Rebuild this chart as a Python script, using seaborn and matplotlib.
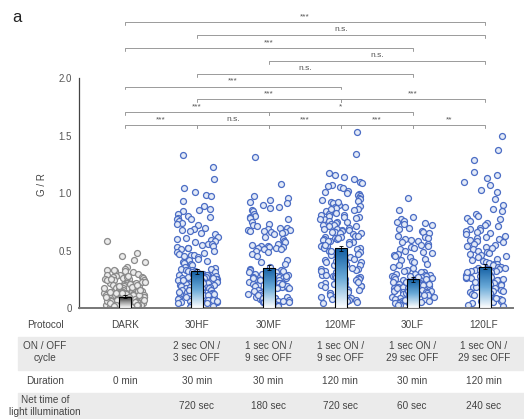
import numpy as np
import pandas as pd
import seaborn as sns
import matplotlib.pyplot as plt
from matplotlib.patches import Rectangle
from matplotlib.colors import LinearSegmentedColormap

#############################################################################
# G/R values per protocol
#############################################################################
groups = ['DARK', '30HF', '30MF', '120MF', '30LF', '120LF']

dark = [0.58, 0.48, 0.45, 0.42, 0.40, 0.36, 0.34, 0.33, 0.32, 0.32, 0.31, 0.30, 0.29, 0.29, 0.28,
        0.27, 0.27, 0.26, 0.26, 0.25, 0.25, 0.24, 0.24, 0.23, 0.23, 0.22, 0.22, 0.21, 0.21, 0.21,
        0.20, 0.20, 0.19, 0.19, 0.19, 0.18, 0.18, 0.18, 0.17, 0.17, 0.17, 0.16, 0.16, 0.16, 0.16,
        0.15, 0.15, 0.15, 0.14, 0.14, 0.14, 0.14, 0.13, 0.13, 0.13, 0.13, 0.12, 0.12, 0.12, 0.12,
        0.11, 0.11, 0.11, 0.11, 0.10, 0.10, 0.10, 0.10, 0.09, 0.09, 0.09, 0.09, 0.08, 0.08, 0.08,
        0.08, 0.07, 0.07, 0.07, 0.07, 0.06, 0.06, 0.06, 0.06, 0.05, 0.05, 0.05, 0.05, 0.04, 0.04,
        0.04, 0.04, 0.03, 0.03, 0.03, 0.02, 0.02, 0.02, 0.01, 0.01, 0.24, 0.19, 0.15, 0.12, 0.08,
        0.05, 0.03, 0.22, 0.17, 0.13, 0.09, 0.06, 0.27, 0.21, 0.11, 0.07, 0.04, 0.02, 0.18, 0.14,
        0.33, 0.28, 0.25, 0.20, 0.16, 0.10, 0.06, 0.03, 0.23, 0.13]

hf30 = [1.33, 1.23, 1.12, 1.04, 1.01, 0.98, 0.97, 0.93, 0.89, 0.86, 0.85, 0.84, 0.82, 0.80, 0.79,
        0.78, 0.77, 0.77, 0.76, 0.74, 0.73, 0.72, 0.70, 0.69, 0.68, 0.67, 0.65, 0.64, 0.62, 0.61,
        0.60, 0.59, 0.58, 0.57, 0.56, 0.56, 0.55, 0.54, 0.53, 0.52, 0.52, 0.51, 0.50, 0.49, 0.48,
        0.47, 0.46, 0.46, 0.45, 0.44, 0.43, 0.42, 0.41, 0.40, 0.39, 0.38, 0.37, 0.36,
        0.35, 0.34, 0.34, 0.33, 0.33, 0.32, 0.32, 0.31, 0.31, 0.31, 0.30, 0.30, 0.29, 0.29, 0.29,
        0.28, 0.28, 0.27, 0.27, 0.27, 0.26, 0.26, 0.25, 0.25, 0.25, 0.24, 0.24, 0.23, 0.23, 0.23,
        0.22, 0.22, 0.21, 0.21, 0.21, 0.20, 0.20, 0.19, 0.19, 0.19, 0.18, 0.18, 0.17, 0.17, 0.17,
        0.16, 0.16, 0.15, 0.15, 0.15, 0.14, 0.14, 0.13, 0.13, 0.13, 0.12, 0.12, 0.11, 0.11, 0.11,
        0.10, 0.10, 0.09, 0.09, 0.09, 0.08, 0.08, 0.07, 0.07, 0.07, 0.06, 0.06, 0.05, 0.05, 0.04,
        0.04, 0.03, 0.03, 0.02, 0.01, 0.26, 0.22, 0.18, 0.14, 0.10, 0.06, 0.30, 0.24, 0.16, 0.12]

mf30 = [1.31, 1.08, 0.97, 0.96, 0.94, 0.92, 0.91, 0.90, 0.88, 0.87, 0.85, 0.84, 0.82, 0.80, 0.79,
        0.78, 0.77, 0.75, 0.73, 0.72, 0.71, 0.70, 0.70, 0.69, 0.68, 0.68, 0.67, 0.67, 0.66, 0.66,
        0.65, 0.64, 0.62, 0.60, 0.58, 0.57, 0.56, 0.55, 0.54, 0.54, 0.53, 0.53, 0.52, 0.52, 0.51,
        0.51, 0.50, 0.49, 0.47, 0.45, 0.42, 0.40, 0.38, 0.36,
        0.34, 0.33, 0.33, 0.32, 0.31, 0.31, 0.30, 0.30, 0.29, 0.28, 0.28, 0.27, 0.27, 0.26, 0.26,
        0.25, 0.25, 0.24, 0.24, 0.23, 0.23, 0.22, 0.22, 0.21, 0.21, 0.20, 0.20, 0.19, 0.19, 0.18,
        0.18, 0.17, 0.17, 0.16, 0.16, 0.15, 0.15, 0.14, 0.14, 0.13, 0.13, 0.12, 0.12, 0.11, 0.11,
        0.10, 0.10, 0.09, 0.09, 0.08, 0.08, 0.07, 0.07, 0.06, 0.06, 0.05, 0.05, 0.04, 0.04, 0.03,
        0.03, 0.02, 0.24, 0.19, 0.15, 0.11, 0.07, 0.28, 0.21, 0.13, 0.09, 0.05, 0.17, 0.26]

mf120 = [1.53, 1.34, 1.17, 1.16, 1.14, 1.12, 1.10, 1.09, 1.07, 1.06, 1.05, 1.04, 1.02, 1.01, 1.00,
         0.99, 0.98, 0.97, 0.96, 0.95, 0.94, 0.93, 0.92, 0.91, 0.90, 0.89, 0.88, 0.88, 0.87, 0.86,
         0.85, 0.84, 0.83, 0.83, 0.82, 0.81, 0.80, 0.79, 0.79, 0.78, 0.77, 0.76, 0.75, 0.75, 0.74,
         0.73, 0.72, 0.71, 0.71, 0.70, 0.69, 0.68, 0.68, 0.67, 0.66, 0.65, 0.65, 0.64, 0.63, 0.62,
         0.62, 0.61, 0.60, 0.60, 0.59, 0.58, 0.57, 0.57, 0.56, 0.55, 0.54, 0.54, 0.53, 0.52, 0.52,
         0.51, 0.50, 0.49, 0.49, 0.48, 0.47, 0.46, 0.46, 0.45, 0.44, 0.43, 0.43, 0.42, 0.41, 0.40,
         0.40, 0.39, 0.38, 0.37, 0.37, 0.36, 0.35, 0.34, 0.34, 0.33, 0.32, 0.31, 0.31, 0.30, 0.29,
         0.28, 0.28, 0.27, 0.26, 0.25, 0.25, 0.24, 0.23, 0.22, 0.22, 0.21, 0.20, 0.19, 0.19, 0.18,
         0.17, 0.16, 0.16, 0.15, 0.14, 0.13, 0.13, 0.12, 0.11, 0.10, 0.10, 0.09, 0.08, 0.07, 0.07,
         0.06, 0.05, 0.04, 0.58, 0.63, 0.47, 0.72, 0.35, 0.81, 0.29, 0.55, 0.66, 0.41, 0.23, 0.92,
         0.18, 0.50, 0.77, 0.32, 0.61, 0.44, 0.86, 0.27, 0.69, 0.14]

lf30 = [0.96, 0.85, 0.79, 0.77, 0.76, 0.75, 0.74, 0.73, 0.72, 0.70, 0.69, 0.67, 0.66, 0.65, 0.63,
        0.62, 0.61, 0.60, 0.59, 0.58, 0.57, 0.56, 0.55, 0.54, 0.53, 0.52, 0.51, 0.50, 0.49, 0.48,
        0.47, 0.46, 0.45, 0.44, 0.43, 0.42, 0.41, 0.40, 0.38, 0.37, 0.36, 0.35, 0.33,
        0.32, 0.31, 0.31, 0.30, 0.30, 0.29, 0.29, 0.28, 0.28, 0.27, 0.27, 0.26, 0.26, 0.25, 0.25,
        0.24, 0.24, 0.23, 0.23, 0.22, 0.22, 0.21, 0.21, 0.20, 0.20, 0.19, 0.19, 0.18, 0.18, 0.17,
        0.17, 0.16, 0.16, 0.15, 0.15, 0.14, 0.14, 0.13, 0.13, 0.12, 0.12, 0.11, 0.11, 0.10, 0.10,
        0.09, 0.09, 0.08, 0.08, 0.07, 0.07, 0.06, 0.06, 0.05, 0.05, 0.04, 0.04, 0.03, 0.03, 0.02,
        0.25, 0.21, 0.17, 0.13, 0.09, 0.05, 0.28, 0.19, 0.11, 0.07, 0.23, 0.15, 0.03, 0.27, 0.12]

lf120 = [1.50, 1.37, 1.29, 1.18, 1.16, 1.13, 1.10, 1.07, 1.03, 1.01, 0.95, 0.90, 0.86, 0.84, 0.82,
         0.80, 0.78, 0.77, 0.76, 0.74, 0.72, 0.71, 0.70, 0.69, 0.68, 0.67, 0.66, 0.65, 0.64, 0.63,
         0.62, 0.61, 0.60, 0.59, 0.58, 0.57, 0.56, 0.55, 0.54, 0.53, 0.52, 0.51, 0.50, 0.49, 0.48,
         0.47, 0.46, 0.45, 0.44, 0.43, 0.42, 0.41, 0.40,
         0.39, 0.38, 0.38, 0.37, 0.36, 0.36, 0.35, 0.34, 0.34, 0.33, 0.32, 0.32, 0.31, 0.30, 0.30,
         0.29, 0.28, 0.28, 0.27, 0.26, 0.26, 0.25, 0.24, 0.24, 0.23, 0.22, 0.22, 0.21, 0.20, 0.20,
         0.19, 0.18, 0.18, 0.17, 0.16, 0.16, 0.15, 0.14, 0.14, 0.13, 0.12, 0.12, 0.11, 0.10, 0.10,
         0.09, 0.08, 0.08, 0.07, 0.06, 0.06, 0.05, 0.04, 0.03, 0.02, 0.33, 0.27, 0.21, 0.15, 0.09,
         0.35, 0.25, 0.17, 0.11, 0.31, 0.23, 0.13, 0.07]

values = [dark, hf30, mf30, mf120, lf30, lf120]

bar_means = [0.10, 0.32, 0.35, 0.52, 0.25, 0.36]
bar_err = [0.01, 0.02, 0.02, 0.02, 0.02, 0.02]

cycle = ['', '2 sec ON /\n3 sec OFF', '1 sec ON /\n9 sec OFF', '1 sec ON /\n9 sec OFF',
         '1 sec ON /\n29 sec OFF', '1 sec ON /\n29 sec OFF']
duration = ['0 min', '30 min', '30 min', '120 min', '30 min', '120 min']
net_time = ['', '720 sec', '180 sec', '720 sec', '60 sec', '240 sec']

# significance brackets, bottom tier first
tiers = [[(0, 1, '***'), (1, 2, 'n.s.'), (2, 3, '***'), (3, 4, '***'), (4, 5, '**')],
         [(0, 2, '***'), (2, 4, '*')],
         [(1, 3, '***'), (3, 5, '***')],
         [(0, 3, '***')],
         [(1, 4, 'n.s.')],
         [(2, 5, 'n.s.')],
         [(0, 4, '***')],
         [(1, 5, 'n.s.')],
         [(0, 5, '***')]]

#############################################################################
sns.set_style('white')
plt.rcParams['font.family'] = ['Liberation Sans', 'DejaVu Sans']
np.random.seed(7)

df = pd.DataFrame({'group': np.repeat(groups, [len(v) for v in values]),
                   'GR': np.concatenate(values)})

W, H = 524, 419
fig = plt.figure(figsize=(W / 100, H / 100), dpi=100)
ax = fig.add_axes([79 / W, (H - 308) / H, (513 - 79) / W, (308 - 20) / H])

# gray bands of the table
for top, bot in [(337, 370), (393, 419)]:
    fig.add_artist(Rectangle((18 / W, 1 - bot / H), (W - 18) / W, (bot - top) / H,
                             transform=fig.transFigure, color='#ebebeb', zorder=0))

sns.stripplot(data=df[df.group == 'DARK'], x='group', y='GR', order=groups, ax=ax,
              jitter=0.29, size=4.3, color='#ececec', edgecolor='#8a8a8a', linewidth=0.9, zorder=2)
sns.stripplot(data=df[df.group != 'DARK'], x='group', y='GR', order=groups, ax=ax,
              jitter=0.29, size=4.3, color='#e3eaf7', edgecolor='#4a6cc4', linewidth=0.9, zorder=2)

bars = pd.DataFrame({'group': groups, 'mean': bar_means})
sns.barplot(data=bars, x='group', y='mean', order=groups, ax=ax, width=0.16,
            color='white', edgecolor='black', linewidth=0.8, zorder=3)

blue = LinearSegmentedColormap.from_list('b', ['white', '#6aaad8', '#125ea3'])
grey = LinearSegmentedColormap.from_list('g', ['white', '#9a9a9a', '#1a1a1a'])
grad = np.linspace(0, 1, 100).reshape(-1, 1)
for i, p in enumerate(ax.patches):
    x0, w, h = p.get_x(), p.get_width(), p.get_height()
    im = ax.imshow(grad, cmap=grey if i == 0 else blue, origin='lower', aspect='auto',
                   extent=[x0, x0 + w, 0, h], zorder=3)
    im.set_clip_path(p)
    p.set_facecolor('none')
    p.set_zorder(4)

ax.errorbar(range(len(groups)), bar_means, yerr=bar_err, fmt='none', ecolor='black',
            elinewidth=0.6, capsize=1.5, capthick=0.6, zorder=5)

# brackets
for k, tier in enumerate(tiers):
    y = 1.59 + 0.112 * k
    for a, b, lab in tier:
        ax.plot([a, a, b, b], [y - 0.025, y, y, y - 0.025], color='#9a9a9a', lw=0.7,
                clip_on=False, zorder=1)
        ax.text((a + b) / 2, y + 0.045, lab, ha='center', va='center', fontsize=6,
                color='#555555')

ax.set_xlim(-0.64, 5.39)
ax.set_ylim(0, 288 / 115)
ax.set_yticks([0, 0.5, 1.0, 1.5, 2.0])
ax.set_yticklabels(['0', '0.5', '1.0', '1.5', '2.0'])
ax.tick_params(axis='y', length=2, width=0.6, color='#555555', labelsize=7, labelcolor='#555555', pad=3)
ax.tick_params(axis='x', bottom=False, labelbottom=False)
ax.set_xlabel('')
ax.set_ylabel('G / R', fontsize=7, color='#444444')
ax.yaxis.set_label_coords(-0.074, 0.43)
for s in ['top', 'right']:
    ax.spines[s].set_visible(False)
ax.spines['left'].set_bounds(0, 2.0)
ax.spines['left'].set_color('#444444')
ax.spines['left'].set_linewidth(0.9)
ax.spines['bottom'].set_color('#777777')
ax.spines['bottom'].set_linewidth(1.4)

# table under the plot
col_px = [125 + 71.8 * i for i in range(len(groups))]
rows = [('Protocol', groups, 325), ('ON / OFF\ncycle', cycle, 352),
        ('Duration', duration, 381), ('Net time of\nlight illumination', net_time, 406)]
for label, cells, ypx in rows:
    fig.text(45 / W, 1 - ypx / H, label, ha='center', va='center', fontsize=7.2,
             color='#444444', linespacing=1.25)
    for xp, c in zip(col_px, cells):
        fig.text(xp / W, 1 - ypx / H, c, ha='center', va='center', fontsize=7.2,
                 color='#444444', linespacing=1.25)

fig.text(12 / W, 1 - 18 / H, 'a', fontsize=12, va='center', ha='left', color='#222222')

plt.savefig('out.png', dpi=100)
